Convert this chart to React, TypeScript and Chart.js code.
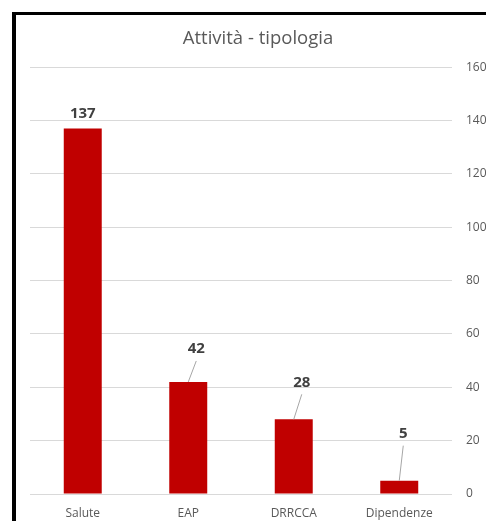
import { useEffect, useRef } from "react";
import { Chart, registerables } from "chart.js";

Chart.register(...registerables);

const titleText = "Attività - tipologia";
const categories = ["Salute", "EAP", "DRRCCA", "Dipendenze"];
const values = [137, 42, 28, 5];
const yMin = 0;
const yMax = 160;
const yStep = 20;

// label placement style (offset of the data label from the bar top, px)
const labelDx = [0, 8, 8, 4];
const labelDy = [15, 33, 37, 47];
const useLeader = [false, true, true, true];

const FONT = "'Open Sans', 'DejaVu Sans', sans-serif";

const borderPlugin = {
  id: "frameBorder",
  afterDraw(chart: any) {
    const ctx = chart.ctx;
    ctx.save();
    ctx.fillStyle = "#000000";
    ctx.fillRect(12, 12, 4, chart.height - 12);
    ctx.fillRect(12, 12, chart.width - 12, 3);
    ctx.restore();
  },
};

const labelPlugin = {
  id: "barLabels",
  afterDatasetsDraw(chart: any) {
    const ctx = chart.ctx;
    const meta = chart.getDatasetMeta(0);
    ctx.save();
    ctx.font = `bold 15px ${FONT}`;
    ctx.fillStyle = "#404040";
    ctx.textAlign = "center";
    ctx.textBaseline = "middle";
    meta.data.forEach((bar: any, i: number) => {
      const x = bar.x;
      const y = bar.y;
      const lx = x + labelDx[i];
      const ly = y - labelDy[i];
      if (useLeader[i]) {
        ctx.strokeStyle = "#a6a6a6";
        ctx.lineWidth = 1;
        ctx.beginPath();
        ctx.moveTo(x, y);
        ctx.lineTo(lx, ly + 12);
        ctx.stroke();
      }
      ctx.fillText(String(values[i]), lx, ly);
    });
    ctx.restore();
  },
};

export default function App() {
  const ref = useRef<HTMLCanvasElement | null>(null);

  useEffect(() => {
    if (!ref.current) return;
    const chart = new Chart(ref.current, {
      type: "bar",
      data: {
        labels: categories,
        datasets: [
          {
            data: values,
            backgroundColor: "#c00000",
            borderWidth: 0,
            categoryPercentage: 1,
            barPercentage: 0.36,
          },
        ],
      },
      options: {
        responsive: false,
        animation: false,
        layout: { padding: { left: 30, top: 12, right: 0, bottom: 0 } },
        plugins: {
          legend: { display: false },
          tooltip: { enabled: false },
          title: {
            display: true,
            text: titleText,
            color: "#595959",
            font: { family: FONT, size: 18.5, weight: "normal" },
            padding: { top: 16, bottom: 17 },
          },
        },
        scales: {
          x: {
            grid: { display: false, drawTicks: false },
            border: { display: false },
            ticks: {
              color: "#595959",
              font: { family: FONT, size: 12 },
              padding: 12,
              maxRotation: 0,
              autoSkip: false,
            },
            afterFit(scale: any) {
              scale.height = 27;
            },
          },
          y: {
            position: "right",
            min: yMin,
            max: yMax,
            grid: { color: "#d9d9d9", drawTicks: false, lineWidth: 1 },
            border: { display: false },
            ticks: {
              stepSize: yStep,
              color: "#595959",
              font: { family: FONT, size: 12 },
              padding: 14,
            },
            afterFit(scale: any) {
              scale.width = 34;
            },
          },
        },
      },
      plugins: [labelPlugin, borderPlugin],
    });
    return () => chart.destroy();
  }, []);

  return (
    <div style={{ position: "absolute", left: 0, top: 0, width: 486, height: 521, background: "#ffffff" }}>
      <canvas ref={ref} width={486} height={521} style={{ display: "block" }} />
    </div>
  );
}
